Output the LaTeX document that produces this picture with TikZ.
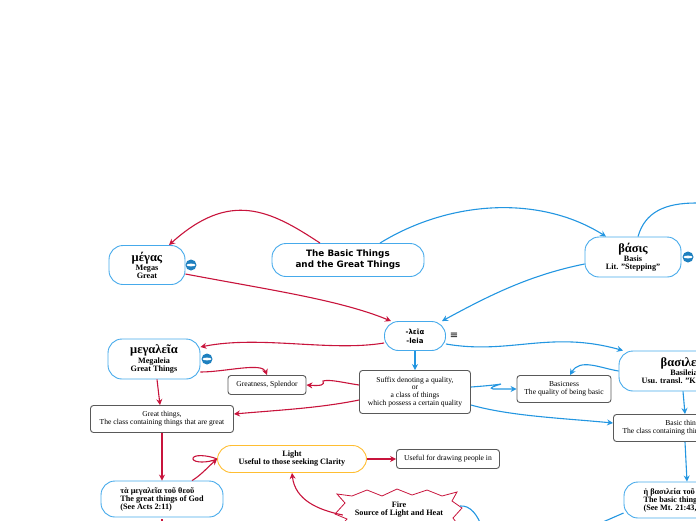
\documentclass[tikz,border=0pt]{standalone}
\usepackage{fontspec}
\setmainfont{Liberation Serif}
\newfontfamily\dejavu{DejaVu Sans}
\usetikzlibrary{arrows.meta}

\definecolor{redlink}{RGB}{200,20,60}
\definecolor{bluelink}{RGB}{35,150,225}
\definecolor{topicblue}{RGB}{70,170,235}
\definecolor{lightorange}{RGB}{255,190,50}

\tikzset{
  topic/.style={draw=topicblue,line width=0.9pt,rounded corners=14pt,fill=white,align=center,font=\bfseries\fontsize{8.2}{8}\selectfont},
  plain/.style={draw=black!65,line width=0.9pt,rounded corners=3pt,fill=white,align=center,font=\fontsize{7.6}{7.9}\selectfont},
  redline/.style={draw=redlink,line width=1.1pt,-{Stealth[length=6pt,width=6pt]}},
  blueline/.style={draw=bluelink,line width=1.1pt,-{Stealth[length=6pt,width=6pt]}},
  badge/.style={circle,fill=bluelink!85!black,minimum size=11pt,inner sep=0pt},
}

\newcommand{\headword}[1]{{\fontsize{12.5}{13}\selectfont #1}}

\begin{document}
\begin{tikzpicture}[x=1pt,y=-1pt]
  \useasboundingbox (0,0) rectangle (696,520);

  \node[topic,minimum width=76pt,minimum height=39pt] (megas) at (147,265) {\headword{μέγας}\\Megas\\Great};
  \node[topic,minimum width=152pt,minimum height=33pt,font=\dejavu\bfseries\fontsize{8.8}{11}\selectfont] (title) at (348,260) {The Basic Things\\and the Great Things};
  \node[topic,minimum width=96pt,minimum height=40pt] (basis) at (633,257) {\headword{βάσις}\\Basis\\Lit. "Stepping"};
  \node[topic,minimum width=61pt,minimum height=29pt,font=\dejavu\bfseries\fontsize{7}{9}\selectfont] (suffix) at (415,336) {-λεῖα\\-leia};
  \node[topic,minimum width=92pt,minimum height=40pt] (megaleia) at (154,359) {\headword{μεγαλεῖα}\\Megaleia\\Great Things};
  \node[topic,minimum width=130pt,minimum height=40pt] (basileia) at (684,371) {\headword{βασιλεία}\\Basileia\\Usu. transl. "Kingdom"};

  \node[plain,minimum width=78pt,minimum height=19pt] (splendor) at (267,385) {Greatness, Splendor};
  \node[plain,minimum width=111pt,minimum height=43pt] (quality) at (415,392) {Suffix denoting a quality,\\or\\a class of things\\which possess a certain quality};
  \node[plain,minimum width=94pt,minimum height=27pt] (basicness) at (564,389) {Basicness\\The quality of being basic};
  \node[plain,minimum width=143pt,minimum height=27pt] (greatthings) at (162,419) {Great things,\\The class containing things that are great};
  \node[plain,minimum width=143pt,minimum height=27pt] (basicthings) at (685,428) {Basic things,\\The class containing things that are basic};

  \node[topic,minimum width=149pt,minimum height=27pt,draw=lightorange] (light) at (292,459) {Light\\Useful to those seeking Clarity};
  \node[plain,minimum width=103pt,minimum height=19pt] (drawing) at (448,459) {Useful for drawing people in};
  \node[topic,minimum width=122pt,minimum height=36pt,align=left] (godgreat) at (162,499) {τὰ μεγαλεῖα τοῦ θεοῦ\\The great things of God\\(See Acts 2:11)};
  \node[topic,minimum width=122pt,minimum height=36pt,align=left] (godbasic) at (685,500) {ἡ βασιλεία τοῦ θεοῦ\\The basic things of God\\(See Mt. 21:43, etc.)};

  % the fire outline runs off the bottom of the page
  \draw[redlink,line width=0.8pt,fill=white] (337,494) -- (352,496) -- (367,490) -- (382,496) -- (397,489) -- (412,495) -- (427,490) -- (442,496) -- (457,492) -- (452,501) -- (462,508) -- (453,518) -- (462,530) -- (337,530) -- (347,519) -- (335,514) -- (345,503) -- cycle;
  \node[minimum width=122pt,minimum height=30pt,align=center,inner sep=0pt,font=\bfseries\fontsize{8.2}{8}\selectfont] (fire) at (399,510) {Fire\\Source of Light and Heat};

  \node[font=\dejavu\fontsize{10}{10}\selectfont,inner sep=0pt] (same) at (454,336) {≡};

  \foreach \name/\x/\y in {megas/191/265,megaleia/207/359,basis/688/257} {
    \node[badge] (badge\name) at (\x,\y) {};
    \fill[white] (\x,\y) ellipse (4.5pt and 1.4pt);
  }

  \coordinate (offright) at (696,203);
  \coordinate (offbasic) at (596,525);
  \coordinate (offfire) at (482,528);
  \coordinate (offgreat) at (162,526);

  \draw[redline] ([xshift=-28pt]title.north) .. controls (270,210) and (230,190) .. ([xshift=22pt]megas.north);
  \draw[blueline] ([xshift=32pt]title.north) .. controls (450,200) and (540,195) .. ([xshift=-27pt]basis.north);
  \draw[bluelink,line width=1.1pt] ([xshift=5pt]basis.north) .. controls (645,212) and (665,203) .. (offright);
  \draw[redline] ([yshift=-9pt]megas.east) .. controls (270,290) and (340,300) .. ([xshift=-24pt]suffix.north);
  \draw[blueline] ([yshift=-7pt]basis.west) .. controls (530,275) and (490,295) .. ([xshift=27pt]suffix.north);
  \draw[redline] ([yshift=-7pt]suffix.west) .. controls (330,352) and (260,335) .. ([yshift=12pt]megaleia.east);
  \draw[blueline] ([yshift=-8pt]suffix.east) .. controls (510,355) and (550,330) .. ([xshift=-61pt]basileia.north);
  \draw[blueline] (suffix.south) -- (quality.north);

  \draw[redline] ([yshift=-13pt]megaleia.east) .. controls (225,372) and (262,362) .. (splendor.north);
  \draw[redline] ([xshift=3pt]megaleia.south) -- ([xshift=-2pt]greatthings.north);
  \draw[redline] ([yshift=7pt]quality.west) .. controls (345,383) and (330,379) .. (323,381) .. controls (325,385) and (321,386) .. (splendor.east);
  \draw[redline] ([yshift=-8pt]quality.west) .. controls (320,408) and (280,410) .. ([yshift=5pt]greatthings.east);
  \draw[redline] (greatthings.south) -- (godgreat.north);
  \draw[redline] ([xshift=30pt]godgreat.north) .. controls (200,476) and (208,467) .. (light.west);
  \draw[redlink,line width=1.1pt] (light.west) .. controls (208,455) and (192,454) .. (193,459) .. controls (194,463) and (208,463) .. (light.west);
  \draw[redlink,line width=1.1pt] ([yshift=-2pt]godgreat.south) -- (offgreat);
  \draw[redline] (light.east) -- (drawing.west);
  \draw[redline] ([xshift=5pt,yshift=-5pt]fire.west) .. controls (318,510) and (295,500) .. (light.south);

  \draw[blueline] ([yshift=5pt]quality.east) .. controls (485,386) and (495,385) .. (501,384) .. controls (495,386) and (488,388) .. (493,389) -- (basicness.west);
  \draw[blueline] ([yshift=-13pt]quality.east) .. controls (510,416) and (560,418) .. ([yshift=5pt]basicthings.west);
  \draw[blueline] (basileia.west) .. controls (600,368) and (580,358) .. ([xshift=6pt]basicness.north);
  \draw[blueline] ([xshift=-1pt]basileia.south) -- (basicthings.north);
  \draw[blueline] (basicthings.south) -- ([xshift=2pt]godbasic.north);
  \draw[bluelink,line width=1.1pt] ([yshift=-13pt]godbasic.west) -- (offbasic);
  \draw[bluelink,line width=1.1pt] ([yshift=4pt]fire.east) .. controls (470,505) and (478,515) .. (offfire);
\end{tikzpicture}
\end{document}
